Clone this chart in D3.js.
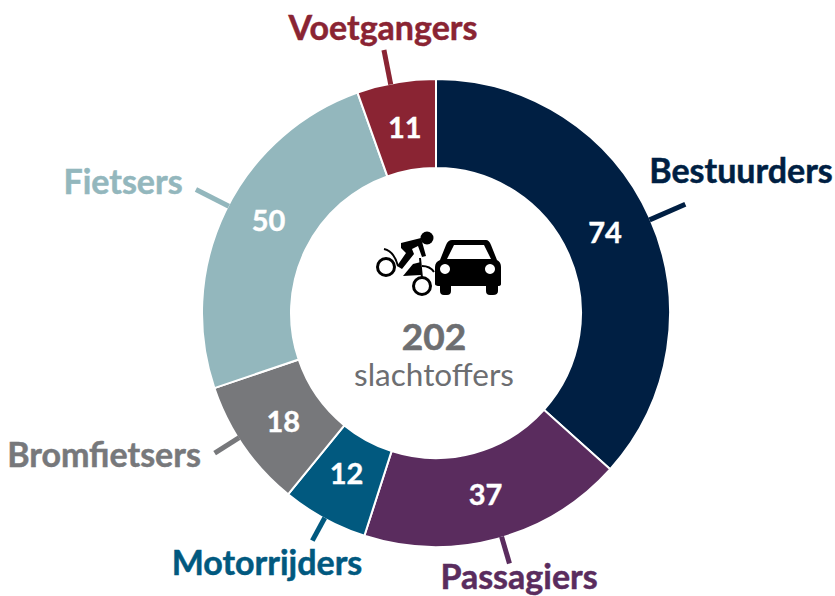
<!DOCTYPE html>
<html>
<head>
<meta charset="utf-8">
<script src="https://cdn.jsdelivr.net/npm/d3@7"></script>
<style>
  html, body { margin: 0; background: #fff; }
  svg { display: block; }
  text { font-family: Lato, sans-serif; }
</style>
</head>
<body>
<svg></svg>
<script>
const categories = ["Bestuurders", "Passagiers", "Motorrijders", "Bromfietsers", "Fietsers", "Voetgangers"]
const values = [74, 37, 12, 18, 50, 11]
const colors = ["#001f43", "#5a2c5e", "#01597f", "#77787b", "#93b7bd", "#8a2433"]
const total = 202
const unitLabel = "slachtoffers"

// hand placed in the original, so kept apart from the data
const tickLengths = [38, 27, 25, 28, 36, 34]
const tickTurns = [0.5, -1.2, 0, 2.4, 1.4, -1.4]
const nameAnchors = [[741, 171], [519, 577], [267, 563], [104, 455], [123, 182], [383, 28]]
const valueNudges = [[-4, -3], [0, -1], [1, -6], [3, 1], [3, -10], [1, 1]]

const width = 835, height = 596
const cx = 436, cy = 313, outer = 234, inner = 145

const svg = d3.select("svg").attr("width", width).attr("height", height)
const g = svg.append("g").attr("transform", `translate(${cx},${cy})`)

const pie = d3.pie().sort(null).value(d => d)
const arc = d3.arc().innerRadius(inner).outerRadius(outer)
const slices = pie(values)

g.selectAll("path.slice")
  .data(slices)
  .join("path")
    .attr("class", "slice")
    .attr("d", arc)
    .attr("fill", (d, i) => colors[i])
    .attr("stroke", "#fff")
    .attr("stroke-width", 2)

const tickAngle = (d, i) => (d.startAngle + d.endAngle) / 2 + tickTurns[i] * Math.PI / 180

g.selectAll("line.tick")
  .data(slices)
  .join("line")
    .attr("class", "tick")
    .attr("x1", (d, i) => Math.sin(tickAngle(d, i)) * (outer - 1))
    .attr("y1", (d, i) => -Math.cos(tickAngle(d, i)) * (outer - 1))
    .attr("x2", (d, i) => Math.sin(tickAngle(d, i)) * (outer + tickLengths[i]))
    .attr("y2", (d, i) => -Math.cos(tickAngle(d, i)) * (outer + tickLengths[i]))
    .attr("stroke", (d, i) => colors[i])
    .attr("stroke-width", 5)

g.selectAll("text.value")
  .data(slices)
  .join("text")
    .attr("class", "value")
    .attr("transform", (d, i) => {
      const [x, y] = arc.centroid(d)
      return `translate(${x + valueNudges[i][0]},${y + valueNudges[i][1]})`
    })
    .attr("text-anchor", "middle")
    .attr("dy", "0.36em")
    .attr("fill", "#fff")
    .attr("stroke", "#fff")
    .attr("stroke-width", 0.4)
    .attr("font-size", 29)
    .attr("font-weight", 700)
    .text(d => d.value)

svg.selectAll("text.name")
  .data(categories)
  .join("text")
    .attr("class", "name")
    .attr("x", (d, i) => nameAnchors[i][0])
    .attr("y", (d, i) => nameAnchors[i][1])
    .attr("text-anchor", "middle")
    .attr("dy", "0.36em")
    .attr("fill", (d, i) => colors[i])
    .attr("stroke", (d, i) => colors[i])
    .attr("stroke-width", 0.5)
    .attr("font-size", 34)
    .attr("font-weight", 700)
    .text(d => d)

svg.append("text")
  .attr("x", 434).attr("y", 337)
  .attr("text-anchor", "middle").attr("dy", "0.36em")
  .attr("fill", "#6d6e71")
  .attr("stroke", "#6d6e71")
  .attr("stroke-width", 0.6)
  .attr("font-size", 37).attr("font-weight", 700)
  .text(total)

svg.append("text")
  .attr("x", 434).attr("y", 375)
  .attr("text-anchor", "middle").attr("dy", "0.36em")
  .attr("fill", "#6d6e71")
  .attr("font-size", 31.5)
  .text(unitLabel)

// cyclist and car icon
const icon = svg.append("g").attr("transform", "translate(360,220)")
icon.append("path")
  .attr("fill-rule", "evenodd")
  .attr("d", `M92 20 L126 20 Q129 20 131 25 L137 40 Q141 42 141 47 L141 64 Q141 66 138 66 L138 71 Q138 75 133 75 L130 75 Q126 75 126 71 L126 66
    L91 66 L91 71 Q91 75 87 75 L84 75 Q80 75 80 71 L80 66 Q75 66 75 64 L75 47 Q75 42 80 40 L86 25 Q88 20 92 20 Z
    M94 25 L87 39 L131 39 L124 25 Z
    M85 44 a5 5 0 1 0 0.01 0 Z M130 44 a5 5 0 1 0 0.01 0 Z`)
icon.append("circle").attr("cx", 67).attr("cy", 18).attr("r", 6.5)
icon.append("path").attr("d", "M41 23 L61 18 L66 36 L62 37 L58 26 L52 29 L54 34 L42 49 L37 46 L46 33 L41 28 Z")
icon.append("path").attr("d", "M43 56 L53 44 L61 42 L61 55 Z")
icon.append("circle").attr("cx", 26).attr("cy", 47).attr("r", 8.5).attr("fill", "none").attr("stroke", "#000").attr("stroke-width", 3)
icon.append("circle").attr("cx", 62).attr("cy", 66).attr("r", 8.5).attr("fill", "none").attr("stroke", "#000").attr("stroke-width", 3)
icon.append("path").attr("d", "M24 29 Q34 31 38 46 M60 38 L62 58 M62 46 Q70 46 74 52").attr("fill", "none").attr("stroke", "#000").attr("stroke-width", 2)
</script>
</body>
</html>
